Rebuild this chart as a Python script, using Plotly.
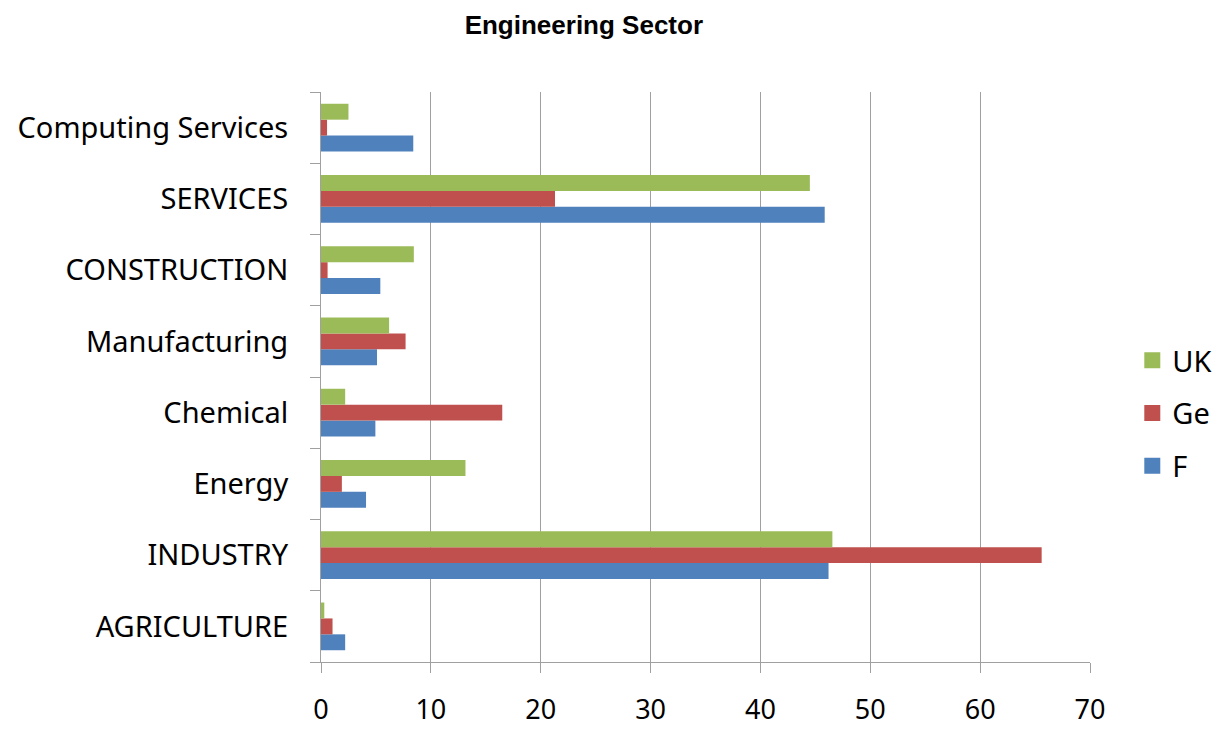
import plotly.graph_objects as go

# Sectors, listed bottom to top on the category axis
sectors = ["AGRICULTURE", "INDUSTRY", "Energy", "Chemical", "Manufacturing",
           "CONSTRUCTION", "SERVICES", "Computing Services"]

# Share per sector for each country
uk = [0.3, 46.55, 13.15, 2.2, 6.2, 8.45, 44.5, 2.5]
ge = [1.05, 65.6, 1.9, 16.5, 7.7, 0.6, 21.3, 0.55]
fr = [2.2, 46.2, 4.1, 4.95, 5.1, 5.4, 45.85, 8.4]

x_ticks = [0, 10, 20, 30, 40, 50, 60, 70]

series = [("F", fr, "#4F81BD"), ("Ge", ge, "#C0504D"), ("UK", uk, "#9BBB59")]

font_family = "Noto Sans"

fig = go.Figure()
for name, vals, color in series:
    fig.add_trace(go.Bar(
        x=vals, y=sectors, name=name, orientation="h", showlegend=False,
        marker=dict(color=color, line=dict(width=0)),
    ))

# Legend entries with larger square swatches, UK listed first
for name, vals, color in reversed(series):
    fig.add_trace(go.Scatter(
        x=[None], y=[None], mode="markers", name=name, legendgroup=name,
        marker=dict(symbol="square", size=19, color=color),
        showlegend=True, hoverinfo="skip",
    ))

fig.update_layout(
    width=1224, height=731,
    margin=dict(l=321, r=134, t=92, b=69, autoexpand=False),
    paper_bgcolor="white", plot_bgcolor="white",
    barmode="group", bargap=0.33, bargroupgap=0,
    title=dict(text="<b>Engineering Sector</b>", xref="container", x=0.477,
               xanchor="center", yref="container", y=0.966, yanchor="middle",
               font=dict(family="Liberation Sans", size=26, color="black")),
    legend=dict(traceorder="grouped", x=1.055, xanchor="left", y=0.436,
                yanchor="middle", font=dict(family=font_family, size=29, color="black"),
                itemwidth=30, tracegroupgap=12, bgcolor="rgba(0,0,0,0)"),
    showlegend=True,
)

fig.update_xaxes(
    range=[0, 70], tickvals=x_ticks, showgrid=True, gridcolor="#A0A0A0", gridwidth=1,
    showline=True, linecolor="#A0A0A0", linewidth=1,
    ticks="outside", ticklen=10, tickcolor="#A0A0A0",
    tickfont=dict(family=font_family, size=27, color="black"),
    ticklabelstandoff=14, zeroline=False, automargin=False,
)
fig.update_yaxes(
    categoryorder="array", categoryarray=sectors,
    showgrid=False, showline=True, linecolor="#A0A0A0", linewidth=1,
    ticks="outside", ticklen=10, tickcolor="#A0A0A0", tickson="boundaries",
    tickfont=dict(family=font_family, size=29, color="black"),
    ticklabelstandoff=26, automargin=False,
)

fig.write_html("out.html")
